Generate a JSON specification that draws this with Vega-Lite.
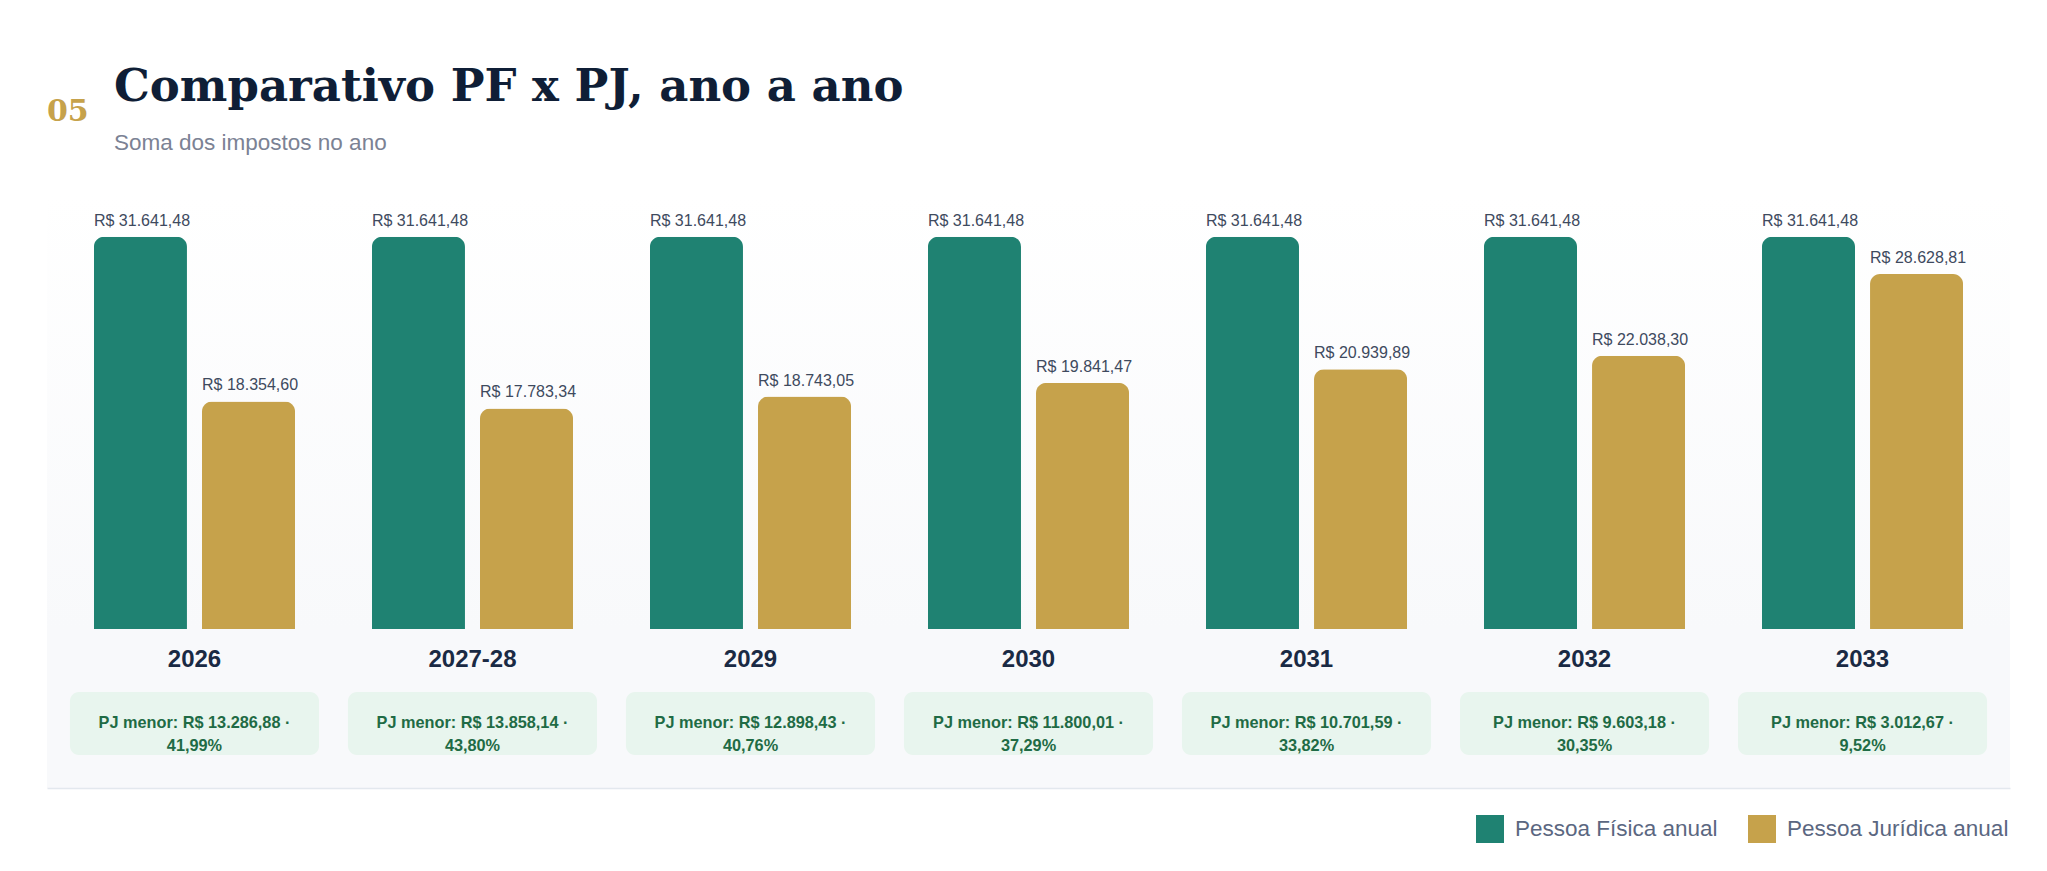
{
  "$schema": "https://vega.github.io/schema/vega-lite/v6.json",
  "description": "Comparativo PF x PJ, ano a ano",
  "background": "#ffffff",
  "padding": {"left": 47, "top": 65, "right": 30, "bottom": 10},
  "title": {
    "text": "Comparativo PF x PJ, ano a ano",
    "subtitle": "Soma dos impostos no ano",
    "anchor": "start",
    "frame": "group",
    "dx": 67,
    "offset": -57.5,
    "font": "DejaVu Serif",
    "fontSize": 45,
    "fontWeight": "bold",
    "color": "#0f1e36",
    "subtitleFont": "Liberation Sans",
    "subtitleFontSize": 22.5,
    "subtitleColor": "#7b8294",
    "subtitlePadding": 22
  },
  "datasets": {
    "barras": [
      {"ano": "2026", "serie": "Pessoa Física anual", "valor": 31641.48},
      {"ano": "2026", "serie": "Pessoa Jurídica anual", "valor": 18354.60},
      {"ano": "2027-28", "serie": "Pessoa Física anual", "valor": 31641.48},
      {"ano": "2027-28", "serie": "Pessoa Jurídica anual", "valor": 17783.34},
      {"ano": "2029", "serie": "Pessoa Física anual", "valor": 31641.48},
      {"ano": "2029", "serie": "Pessoa Jurídica anual", "valor": 18743.05},
      {"ano": "2030", "serie": "Pessoa Física anual", "valor": 31641.48},
      {"ano": "2030", "serie": "Pessoa Jurídica anual", "valor": 19841.47},
      {"ano": "2031", "serie": "Pessoa Física anual", "valor": 31641.48},
      {"ano": "2031", "serie": "Pessoa Jurídica anual", "valor": 20939.89},
      {"ano": "2032", "serie": "Pessoa Física anual", "valor": 31641.48},
      {"ano": "2032", "serie": "Pessoa Jurídica anual", "valor": 22038.30},
      {"ano": "2033", "serie": "Pessoa Física anual", "valor": 31641.48},
      {"ano": "2033", "serie": "Pessoa Jurídica anual", "valor": 28628.81}
    ],
    "resumo": [
      {"ano": "2026", "texto": ["PJ menor: R$ 13.286,88 ·", "41,99%"]},
      {"ano": "2027-28", "texto": ["PJ menor: R$ 13.858,14 ·", "43,80%"]},
      {"ano": "2029", "texto": ["PJ menor: R$ 12.898,43 ·", "40,76%"]},
      {"ano": "2030", "texto": ["PJ menor: R$ 11.800,01 ·", "37,29%"]},
      {"ano": "2031", "texto": ["PJ menor: R$ 10.701,59 ·", "33,82%"]},
      {"ano": "2032", "texto": ["PJ menor: R$ 9.603,18 ·", "30,35%"]},
      {"ano": "2033", "texto": ["PJ menor: R$ 3.012,67 ·", "9,52%"]}
    ]
  },
  "spacing": 0,
  "vconcat": [
    {
      "width": 1963,
      "height": 434,
      "data": {"name": "barras"},
      "title": {
        "text": "05",
        "anchor": "start",
        "frame": "group",
        "baseline": "alphabetic",
        "offset": 44,
        "font": "DejaVu Serif",
        "fontSize": 30,
        "fontWeight": "bold",
        "color": "#c6a24b"
      },
      "view": {
        "stroke": null,
        "fill": {
          "gradient": "linear",
          "x1": 0, "y1": 0, "x2": 0, "y2": 1,
          "stops": [
            {"offset": 0, "color": "#ffffff"},
            {"offset": 1, "color": "#f8f9fb"}
          ]
        }
      },
      "encoding": {
        "x": {
          "field": "ano",
          "type": "nominal",
          "scale": {"paddingInner": 0.104, "paddingOuter": 0.0825},
          "axis": null
        },
        "xOffset": {
          "field": "serie",
          "type": "nominal",
          "scale": {"paddingInner": 0.139, "paddingOuter": 0.222}
        },
        "y": {
          "field": "valor",
          "type": "quantitative",
          "scale": {"domain": [0, 35000], "nice": false},
          "axis": null
        }
      },
      "layer": [
        {
          "mark": {"type": "bar", "cornerRadiusTopLeft": 10, "cornerRadiusTopRight": 10},
          "encoding": {
            "color": {
              "field": "serie",
              "type": "nominal",
              "scale": {
                "domain": ["Pessoa Física anual", "Pessoa Jurídica anual"],
                "range": ["#1f8272", "#c6a24b"]
              },
              "legend": {
                "title": null,
                "orient": "none",
                "legendX": 1429,
                "legendY": 620,
                "direction": "horizontal",
                "symbolType": "square",
                "symbolSize": 784,
                "symbolStrokeWidth": 0,
                "labelFont": "Liberation Sans",
                "labelFontSize": 22.5,
                "labelColor": "#5b6781",
                "labelOffset": 11,
                "labelLimit": 400,
                "columnPadding": 30
              }
            }
          }
        },
        {
          "mark": {
            "type": "text",
            "align": "left",
            "baseline": "alphabetic",
            "dx": -46.5,
            "dy": -11,
            "font": "Liberation Sans",
            "fontSize": 16,
            "color": "#3e4a5e"
          },
          "encoding": {
            "text": {"field": "valor", "type": "quantitative", "format": "$,.2f"}
          }
        }
      ]
    },
    {
      "width": 1963,
      "height": 159,
      "data": {"name": "resumo"},
      "view": {"stroke": null, "fill": "#f8f9fb"},
      "encoding": {
        "x": {
          "field": "ano",
          "type": "nominal",
          "scale": {"paddingInner": 0.104, "paddingOuter": 0.0825},
          "axis": {
            "title": null,
            "labels": false,
            "ticks": false,
            "grid": false,
            "domainColor": "#e3e8ee",
            "domainWidth": 1.5
          }
        }
      },
      "layer": [
        {
          "mark": {
            "type": "text",
            "font": "Liberation Sans",
            "fontSize": 24,
            "fontWeight": "bold",
            "color": "#1a2a44"
          },
          "encoding": {
            "y": {
              "datum": "Ano",
              "type": "nominal",
              "scale": {
                "domain": ["Ano", "Diferença"],
                "paddingInner": 0,
                "paddingOuter": 0.262,
                "align": 0
              },
              "axis": null
            },
            "text": {"field": "ano", "type": "nominal"}
          }
        },
        {
          "mark": {"type": "bar", "cornerRadius": 9, "color": "#e8f5ee"},
          "encoding": {
            "y": {"datum": "Diferença", "type": "nominal"}
          }
        },
        {
          "mark": {
            "type": "text",
            "font": "Liberation Sans",
            "fontSize": 16.3,
            "fontWeight": "bold",
            "lineHeight": 23,
            "color": "#1f6b45"
          },
          "encoding": {
            "y": {"datum": "Diferença", "type": "nominal"},
            "text": {"field": "texto", "type": "nominal"}
          }
        }
      ]
    }
  ],
  "config": {
    "font": "Liberation Sans",
    "view": {"stroke": null},
    "locale": {
      "number": {
        "decimal": ",",
        "thousands": ".",
        "grouping": [3],
        "currency": ["R$ ", ""]
      }
    }
  }
}
